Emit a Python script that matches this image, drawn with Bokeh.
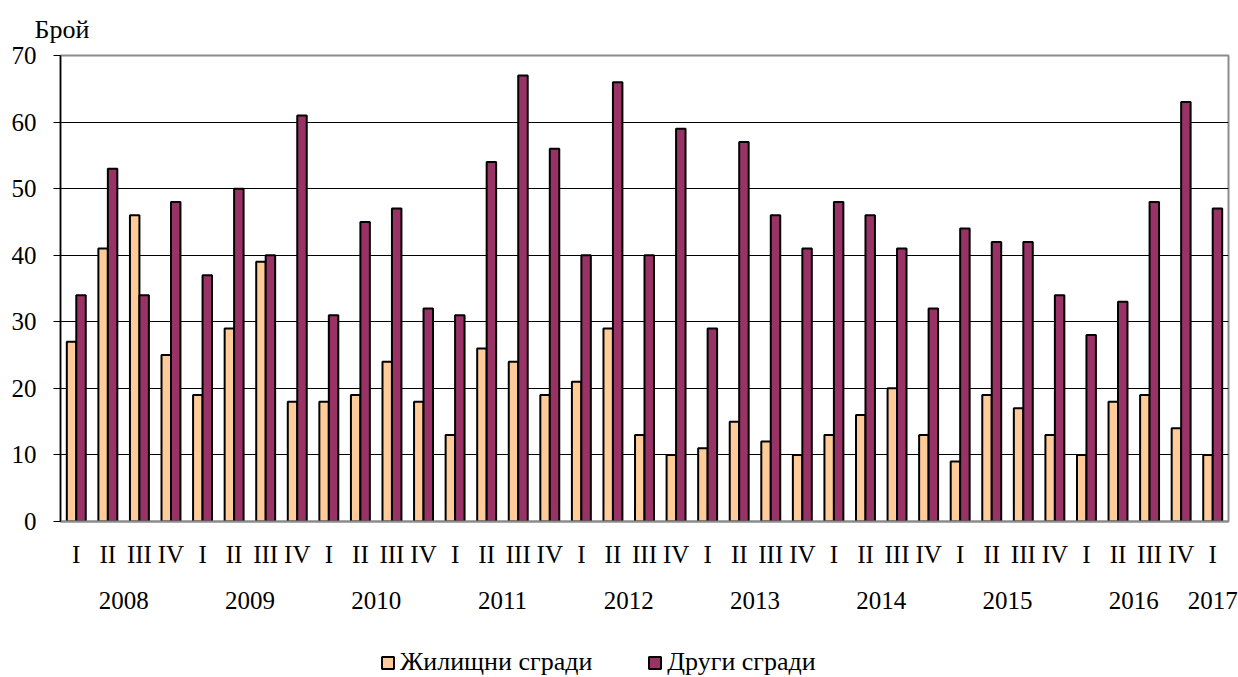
from bokeh.plotting import figure
from bokeh.layouts import column
from bokeh.models import (ColumnDataSource, Range1d, FixedTicker, LinearAxis, Legend,
                          LegendItem, Title, SingleIntervalTicker)
from bokeh.embed import file_html
from bokeh.resources import INLINE

# ---- data ----
quarters = ["I", "II", "III", "IV"] * 9 + ["I"]
years = ["2008"] * 4 + ["2009"] * 4 + ["2010"] * 4 + ["2011"] * 4 + ["2012"] * 4 + \
        ["2013"] * 4 + ["2014"] * 4 + ["2015"] * 4 + ["2016"] * 4 + ["2017"]
residential = [27, 41, 46, 25, 19, 29, 39, 18, 18, 19, 24, 18, 13, 26, 24, 19, 21, 29, 13, 10,
               11, 15, 12, 10, 13, 16, 20, 13, 9, 19, 17, 13, 10, 18, 19, 14, 10]
other = [34, 53, 34, 48, 37, 50, 40, 61, 31, 45, 47, 32, 31, 54, 67, 56, 40, 66, 40, 59,
         29, 57, 46, 41, 48, 46, 41, 32, 44, 42, 42, 34, 28, 33, 48, 63, 47]
series_names = ["Жилищни сгради", "Други сгради"]
series_colors = ["#FFCC99", "#993366"]
y_label = "Брой"

FONT = "Liberation Serif"
FS = "25px"

n = len(quarters)
xc = [i + 0.5 for i in range(n)]
bw = 0.3
src = ColumnDataSource(dict(
    x_res=[x - bw / 2 for x in xc],
    x_oth=[x + bw / 2 for x in xc],
    res=residential,
    oth=other,
))

p = figure(frame_width=1168, frame_height=466, output_backend="svg", toolbar_location=None,
           x_range=Range1d(0, n), y_range=Range1d(0, 70),
           min_border_left=60, min_border_right=10, min_border_top=55, min_border_bottom=100)

p.vbar(x="x_res", top="res", width=bw, source=src, fill_color=series_colors[0],
       line_color="black", line_width=2)
p.vbar(x="x_oth", top="oth", width=bw, source=src, fill_color=series_colors[1],
       line_color="black", line_width=2)

p.outline_line_color = "#8c8c8c"
p.outline_line_width = 2
p.xgrid.visible = False
p.ygrid.ticker = FixedTicker(ticks=list(range(10, 70, 10)))
p.ygrid.grid_line_color = "black"
p.ygrid.grid_line_width = 1

# y axis
ya = p.yaxis[0]
ya.ticker = SingleIntervalTicker(interval=10)
ya.axis_line_color = "black"
ya.axis_line_width = 1.5
ya.major_tick_out = 7
ya.major_tick_in = 0
ya.major_tick_line_color = "black"
ya.minor_tick_line_color = None
ya.major_label_standoff = 17
ya.major_label_text_font = FONT
ya.major_label_text_font_size = FS
ya.major_label_text_color = "black"

# quarter axis
xa = p.xaxis[0]
xa.ticker = FixedTicker(ticks=xc)
xa.major_label_overrides = {x: q for x, q in zip(xc, quarters)}
xa.axis_line_color = "#8c8c8c"
xa.axis_line_width = 2
xa.major_tick_line_color = None
xa.minor_tick_line_color = None
xa.major_tick_out = 0
xa.major_tick_in = 0
xa.major_label_standoff = 19
xa.major_label_text_font = FONT
xa.major_label_text_font_size = FS
xa.major_label_text_color = "black"

# year axis
uniq_years = []
for y in years:
    if y not in uniq_years:
        uniq_years.append(y)
year_pos = []
for y in uniq_years:
    xs = [x for x, yy in zip(xc, years) if yy == y]
    year_pos.append(sum(xs) / len(xs))
ya2 = LinearAxis(ticker=FixedTicker(ticks=year_pos),
                 major_label_overrides={x: y for x, y in zip(year_pos, uniq_years)},
                 axis_line_color=None, major_tick_line_color=None, minor_tick_line_color=None,
                 major_tick_out=0, major_tick_in=0, major_label_standoff=21,
                 major_label_text_font=FONT, major_label_text_font_size=FS,
                 major_label_text_color="black")
p.add_layout(ya2, "below")

p.add_layout(Title(text=y_label, align="left", offset=-26, standoff=24, text_font=FONT,
                   text_font_size="26px", text_font_style="normal", text_color="black"), "above")

# legend strip (separate small figure under the chart; proxies hold no visible data)
p2 = figure(width=1238, height=56, output_backend="svg", toolbar_location=None,
            x_range=Range1d(0, 1), y_range=Range1d(0, 1),
            x_axis_type=None, y_axis_type=None,
            min_border_left=0, min_border_right=0, min_border_top=0, min_border_bottom=0)
p2.outline_line_color = None
p2.grid.visible = False
nan = float("nan")
lr1 = p2.vbar(x=[nan], top=[nan], width=bw, fill_color=series_colors[0],
              line_color="black", line_width=2)
lr2 = p2.vbar(x=[nan], top=[nan], width=bw, fill_color=series_colors[1],
              line_color="black", line_width=2)
legend = Legend(items=[LegendItem(label=series_names[0], renderers=[lr1]),
                       LegendItem(label=series_names[1], renderers=[lr2])],
                orientation="horizontal", location=(320, 0),
                label_text_font=FONT, label_text_font_size="26px", label_text_color="black",
                glyph_width=15, glyph_height=15, label_standoff=5, spacing=55,
                padding=0, margin=0, border_line_color=None, background_fill_alpha=0)
p2.add_layout(legend, "center")

open("out.html", "w").write(file_html(column(p, p2, spacing=0), INLINE))
